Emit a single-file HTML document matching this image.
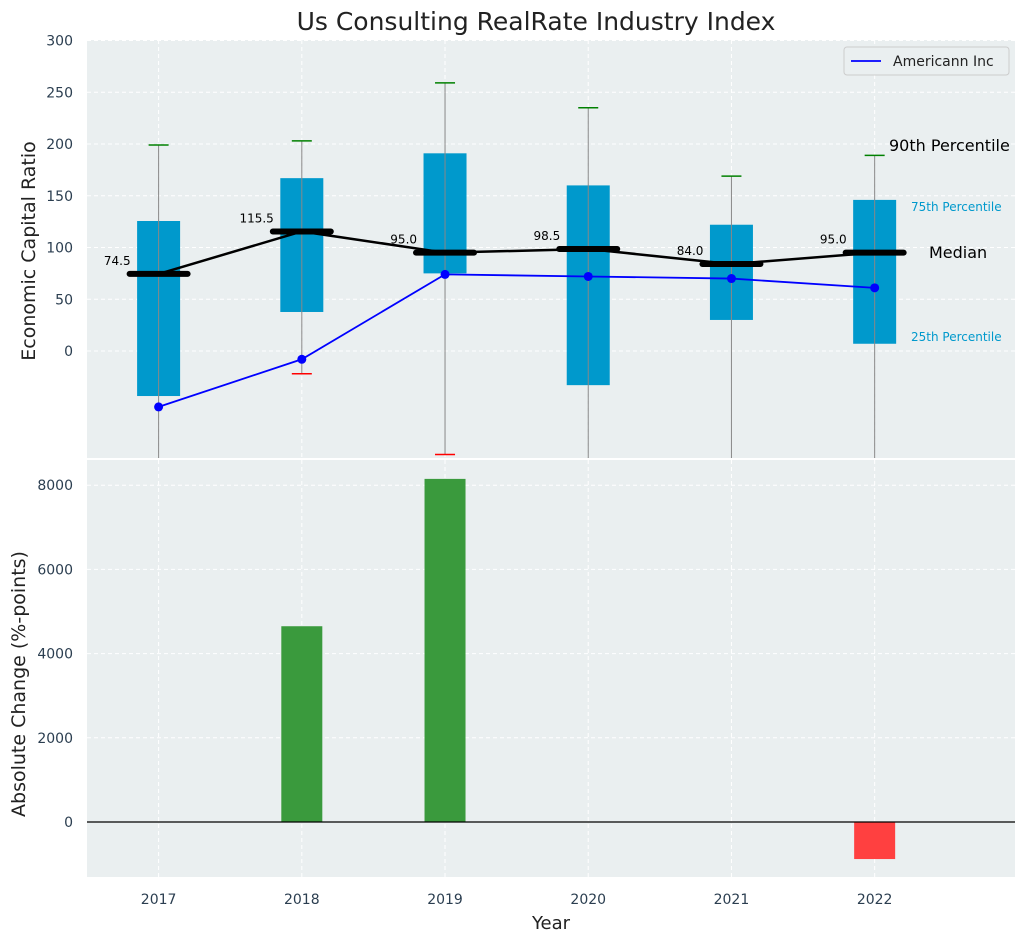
<!DOCTYPE html>
<html><head><meta charset="utf-8"><style>
body{margin:0;background:#fff;font-family:"Liberation Sans","DejaVu Sans",sans-serif}
svg text{font-family:"DejaVu Sans","Liberation Sans",sans-serif}
</style></head><body>
<svg id="c" width="1026" height="942"></svg>
<script>
const years=["2017","2018","2019","2020","2021","2022"];
const p25=[-43.5,37.7,75,-33,30,7];
const p75=[125.6,167,191,160,122,146];
const p90=[199,203,259,235,169,189];
const p10=[-150,-22,-100,-150,-150,-150];
const medians=[74.5,115.5,95,98.5,84,95];
const company=[-54,-8,74,72,70,61];
const changes=[0,4650,8150,0,0,-880];
const topTicks=[0,50,100,150,200,250,300];
const botTicks=[0,2000,4000,6000,8000];
const NS="http://www.w3.org/2000/svg";
const svg=document.getElementById('c');
function el(t,a,txt){const e=document.createElementNS(NS,t);for(const k in a)e.setAttribute(k,a[k]);if(txt!=null)e.textContent=txt;svg.appendChild(e);return e;}
const X0=87,X1=1015;
const xs=i=>X0+(i+0.5)/6.48*(X1-X0);
const yT=v=>351-v*1.035;
const yB=v=>822-v*0.0421;
let e;
e=el('text',{x:536,y:30,'text-anchor':'middle','font-size':25,fill:'#222'},'Us Consulting RealRate Industry Index');

e=el('rect',{x:X0,y:40,width:X1-X0,height:418,fill:'#eaeff0'});

e=el('rect',{x:X0,y:460,width:X1-X0,height:417,fill:'#eaeff0'});

years.forEach((y,i)=>{
 el('line',{x1:xs(i),x2:xs(i),y1:40,y2:458,stroke:'#fff','stroke-dasharray':'4,3'});
 el('line',{x1:xs(i),x2:xs(i),y1:460,y2:877,stroke:'#fff','stroke-dasharray':'4,3'});
 e=el('text',{x:xs(i),y:904,'text-anchor':'middle','font-size':14,fill:'#2b3e50'},y);
 
});
topTicks.forEach(t=>{
 el('line',{x1:X0,x2:X1,y1:yT(t),y2:yT(t),stroke:'#fff','stroke-dasharray':'4,3'});
 e=el('text',{x:73,y:yT(t)+5,'text-anchor':'end','font-size':14,fill:'#2b3e50'},t);
 
});
botTicks.forEach(t=>{
 el('line',{x1:X0,x2:X1,y1:yB(t),y2:yB(t),stroke:'#fff','stroke-dasharray':'4,3'});
 e=el('text',{x:73,y:yB(t)+5,'text-anchor':'end','font-size':14,fill:'#2b3e50'},t);
 
});
const defs=el('defs',{});
const cp=document.createElementNS(NS,'clipPath');cp.setAttribute('id','ct');
const cr=document.createElementNS(NS,'rect');cr.setAttribute('x',X0);cr.setAttribute('y',40);cr.setAttribute('width',X1-X0);cr.setAttribute('height',418);
cp.appendChild(cr);defs.appendChild(cp);
const g=document.createElementNS(NS,'g');g.setAttribute('clip-path','url(#ct)');svg.appendChild(g);
function gel(t,a){const e=document.createElementNS(NS,t);for(const k in a)e.setAttribute(k,a[k]);g.appendChild(e);return e;}
const bw=43;
years.forEach((y,i)=>{
 const x=xs(i);
 e=gel('rect',{x:x-bw/2,y:yT(p75[i]),width:bw,height:yT(p25[i])-yT(p75[i]),fill:'#0099cc'});
 
 e=gel('line',{x1:x,x2:x,y1:yT(p90[i]),y2:yT(p10[i]),stroke:'#888','stroke-width':1});
 
 e=gel('line',{x1:x-10,x2:x+10,y1:yT(p90[i]),y2:yT(p90[i]),stroke:'green','stroke-width':1.5});
 
 e=gel('line',{x1:x-10,x2:x+10,y1:yT(p10[i]),y2:yT(p10[i]),stroke:'red','stroke-width':1.5});
 
});
let d='';medians.forEach((m,i)=>d+=(i?'L':'M')+xs(i)+','+yT(m));
e=gel('path',{d:d,fill:'none',stroke:'#000','stroke-width':2.5});

medians.forEach((m,i)=>{
 e=gel('line',{x1:xs(i)-29,x2:xs(i)+29,y1:yT(m),y2:yT(m),stroke:'#000','stroke-width':6,'stroke-linecap':'round'});
 
 e=el('text',{x:xs(i)-28,y:yT(m)-9,'text-anchor':'end','font-size':12,fill:'#000'},m.toFixed(1));
 
});
d='';company.forEach((m,i)=>d+=(i?'L':'M')+xs(i)+','+yT(m));
e=gel('path',{d:d,fill:'none',stroke:'blue','stroke-width':1.8});

company.forEach((m,i)=>{e=gel('circle',{cx:xs(i),cy:yT(m),r:4.5,fill:'blue'});
 });
e=el('text',{x:889,y:151,'font-size':16,fill:'#000'},'90th Percentile');
e=el('text',{x:911,y:211,'font-size':12,fill:'#0099cc'},'75th Percentile');
e=el('text',{x:929,y:258,'font-size':16,fill:'#000'},'Median');
e=el('text',{x:911,y:341,'font-size':12,fill:'#0099cc'},'25th Percentile');
e=el('rect',{x:844,y:47,width:165,height:28,rx:3,fill:'#eaeff0',stroke:'#ccc'});
el('line',{x1:851,x2:881,y1:61,y2:61,stroke:'blue','stroke-width':1.8});
e=el('text',{x:893,y:66,'font-size':14,fill:'#222'},'Americann Inc');
changes.forEach((v,i)=>{
 if(v===0)return;
 const y0=yB(Math.max(v,0)),y1=yB(Math.min(v,0));
 e=el('rect',{x:xs(i)-20.5,y:y0,width:41,height:y1-y0,fill:v>0?'#3a9a3d':'#ff4040'});
 
});
e=el('line',{x1:X0,x2:X1,y1:yB(0),y2:yB(0),stroke:'#000','stroke-width':1.2});
e=el('text',{x:0,y:0,'font-size':19,fill:'#222','text-anchor':'middle',transform:'translate(35,251) rotate(-90)'},'Economic Capital Ratio');
e=el('text',{x:0,y:0,'font-size':19,fill:'#222','text-anchor':'middle',transform:'translate(25,684) rotate(-90)'},'Absolute Change (%-points)');
e=el('text',{x:551,y:929,'font-size':18,fill:'#222','text-anchor':'middle'},'Year');
</script>
</body></html>
